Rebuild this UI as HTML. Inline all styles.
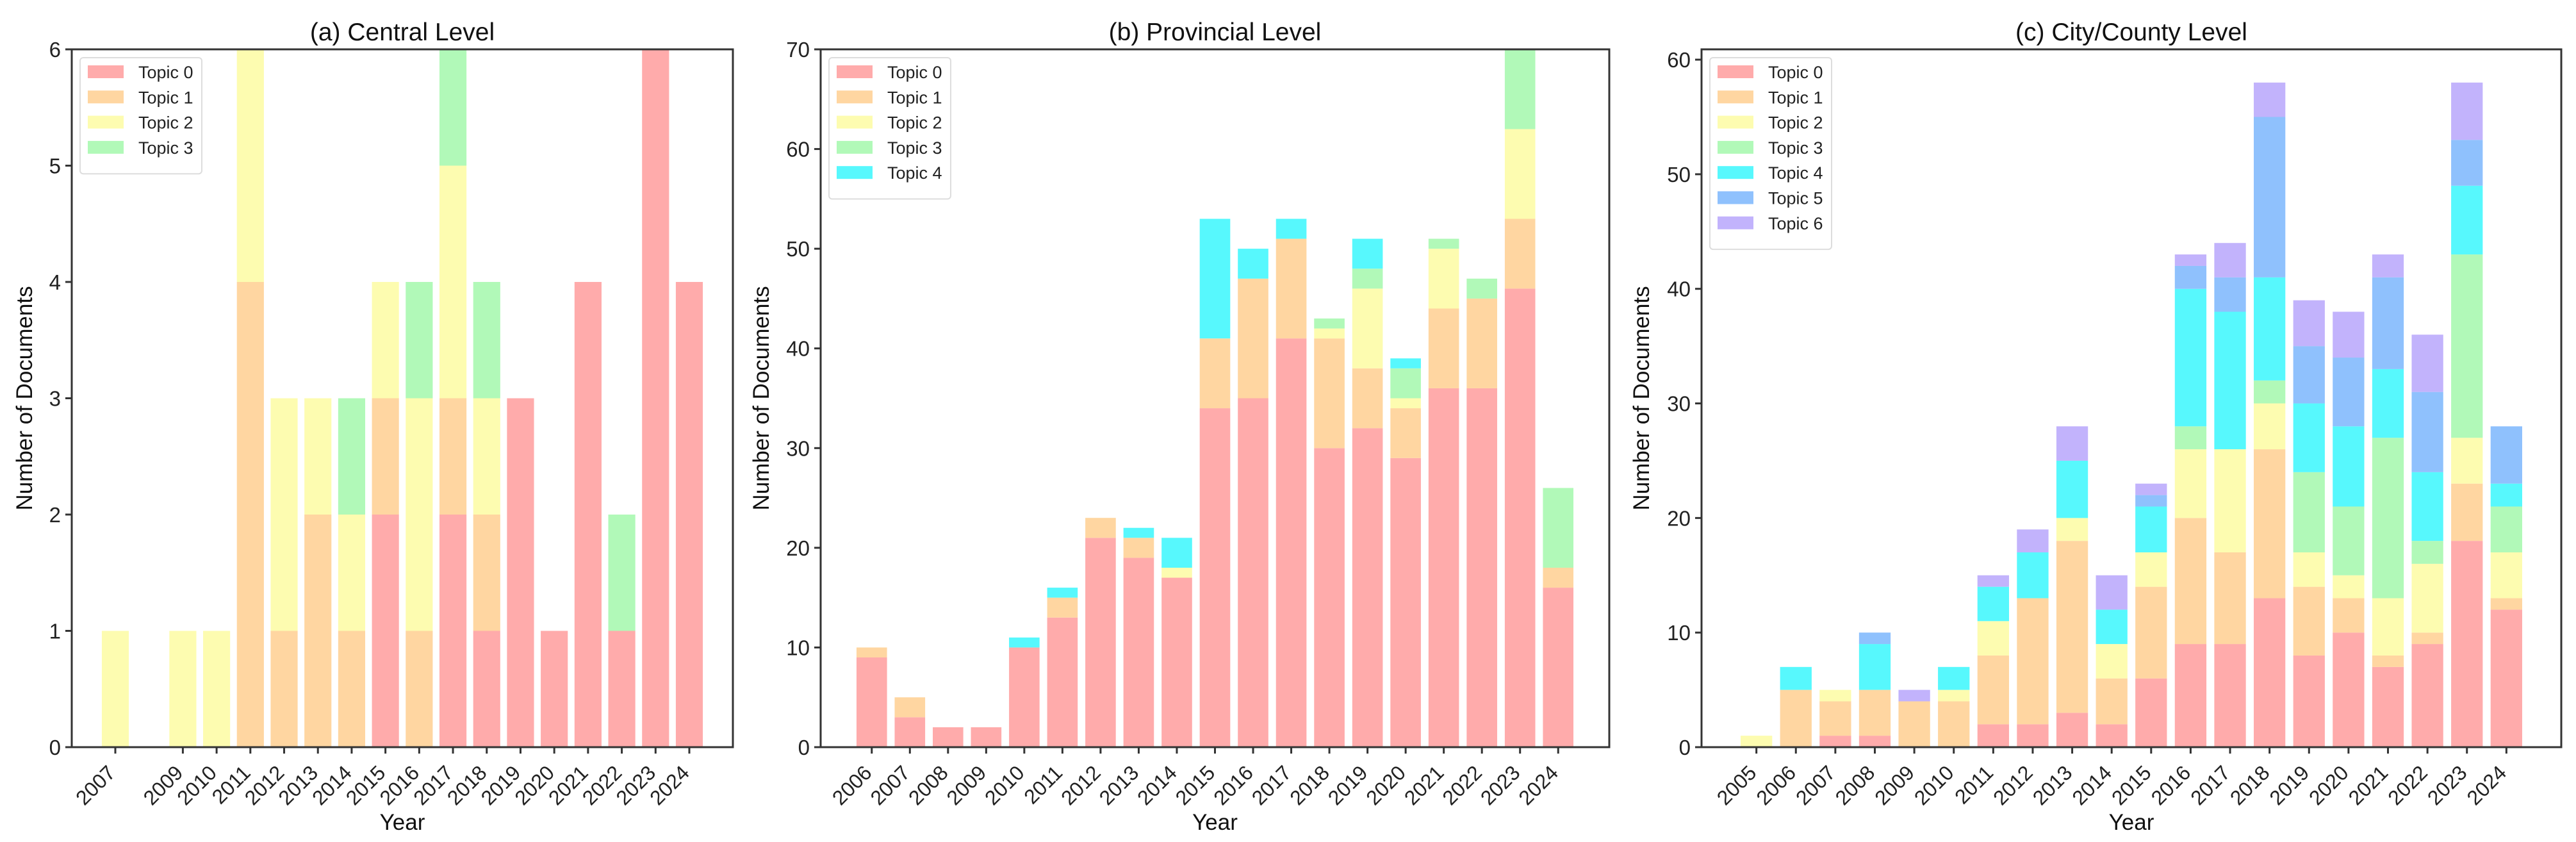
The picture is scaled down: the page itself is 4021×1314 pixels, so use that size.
<!DOCTYPE html>
<html><head><meta charset="utf-8">
<style>
html,body{margin:0;padding:0;background:#fff;}
svg{display:block;font-family:"Liberation Sans","DejaVu Sans",sans-serif;}
</style></head>
<body>
<svg id="fig" width="4021" height="1314" viewBox="0 0 4021 1314" xmlns="http://www.w3.org/2000/svg"></svg>
<script>
const topicColors = ["#ffabab","#ffd6a1","#fdfcb0","#b1f9b8","#57f8fd","#8fc1fd","#c2b3fc"];

const yearsA = [2007,2009,2010,2011,2012,2013,2014,2015,2016,2017,2018,2019,2020,2021,2022,2023,2024];
const a_t0 = [0,0,0,0,0,0,0,2,0,2,1,3,1,4,1,6,4];
const a_t1 = [0,0,0,4,1,2,1,1,1,1,1,0,0,0,0,0,0];
const a_t2 = [1,1,1,2,2,1,1,1,2,2,1,0,0,0,0,0,0];
const a_t3 = [0,0,0,0,0,0,1,0,1,1,1,0,0,0,1,0,0];
const ticksA = [0,1,2,3,4,5,6];

const yearsB = [2006,2007,2008,2009,2010,2011,2012,2013,2014,2015,2016,2017,2018,2019,2020,2021,2022,2023,2024];
const b_t0 = [9,3,2,2,10,13,21,19,17,34,35,41,30,32,29,36,36,46,16];
const b_t1 = [1,2,0,0,0,2,2,2,0,7,12,10,11,6,5,8,9,7,2];
const b_t2 = [0,0,0,0,0,0,0,0,1,0,0,0,1,8,1,6,0,9,0];
const b_t3 = [0,0,0,0,0,0,0,0,0,0,0,0,1,2,3,1,2,10,8];
const b_t4 = [0,0,0,0,1,1,0,1,3,12,3,2,0,3,1,0,0,0,0];
const ticksB = [0,10,20,30,40,50,60,70];

const yearsC = [2005,2006,2007,2008,2009,2010,2011,2012,2013,2014,2015,2016,2017,2018,2019,2020,2021,2022,2023,2024];
const c_t0 = [0,0,1,1,0,0,2,2,3,2,6,9,9,13,8,10,7,9,18,12];
const c_t1 = [0,5,3,4,4,4,6,11,15,4,8,11,8,13,6,3,1,1,5,1];
const c_t2 = [1,0,1,0,0,1,3,0,2,3,3,6,9,4,3,2,5,6,4,4];
const c_t3 = [0,0,0,0,0,0,0,0,0,0,0,2,0,2,7,6,14,2,16,4];
const c_t4 = [0,2,0,4,0,2,3,4,5,3,4,12,12,9,6,7,6,6,6,2];
const c_t5 = [0,0,0,1,0,0,0,0,0,0,1,2,3,14,5,6,8,7,4,5];
const c_t6 = [0,0,0,0,1,0,1,2,3,3,1,1,3,3,4,4,2,5,5,0];
const ticksC = [0,10,20,30,40,50,60];

const NS = "http://www.w3.org/2000/svg";
const svg = document.getElementById("fig");
function mk(tag, attrs, parent){
  const e = document.createElementNS(NS, tag);
  for (const k in attrs) e.setAttribute(k, attrs[k]);
  (parent||svg).appendChild(e);
  return e;
}

function panel(cfg){
  const {id, title, left, right, top, bottom, years, series, ymax, ticks} = cfg;
  const g = mk("g", {});
  
  
  const xmin = years[0] - 0.4, xmaxD = years[years.length-1] + 0.4;
  const m = (xmaxD - xmin) * 0.05;
  const x0 = xmin - m, x1 = xmaxD + m;
  const xs = v => left + (v - x0) / (x1 - x0) * (right - left);
  const ys = v => bottom - v / ymax * (bottom - top);
  const clip = mk("clipPath", {id: id + "-clip"}, g);
  mk("rect", {x:left, y:top, width:right-left, height:bottom-top}, clip);
  const bars = mk("g", {"clip-path": "url(#" + id + "-clip)"}, g);
  
  
  const bw = xs(0.8) - xs(0);
  years.forEach((yr, i) => {
    let base = 0;
    series.forEach((s, k) => {
      const v = s[i];
      if (v > 0) {
        const r = mk("rect", {x: xs(yr) - bw/2, y: ys(base + v), width: bw, height: ys(base) - ys(base + v), fill: topicColors[k]}, bars);
        
        
      }
      base += v;
    });
  });
  const fr = mk("rect", {x:left, y:top, width:right-left, height:bottom-top, fill:"none", stroke:"#333", "stroke-width":3}, g);
  
  
  ticks.forEach(t => {
    const y = ys(t);
    const tl = mk("line", {x1:left-10, x2:left, y1:y, y2:y, stroke:"#333", "stroke-width":3}, g);
    
    
    const tx = mk("text", {x:left-17, y:y+12, "text-anchor":"end", "font-size":33, fill:"#222"}, g);
    tx.textContent = t;
    
    
  });
  years.forEach(yr => {
    const x = xs(yr);
    const tl = mk("line", {x1:x, x2:x, y1:bottom, y2:bottom+10, stroke:"#333", "stroke-width":3}, g);
    
    
    const tx = mk("text", {x:0, y:0, "text-anchor":"end", "font-size":32, fill:"#222",
      transform:"translate(" + (x+2) + "," + (bottom+42) + ") rotate(-45)"}, g);
    tx.textContent = yr;
    
    
  });
  const tt = mk("text", {x:(left+right)/2, y:63, "text-anchor":"middle", "font-size":39, fill:"#111"}, g);
  tt.textContent = title;
  
  
  const xl = mk("text", {x:(left+right)/2, y:1295, "text-anchor":"middle", "font-size":35, fill:"#111"}, g);
  xl.textContent = "Year";
  
  
  const ylx = cfg.ylabelX;
  const yl = mk("text", {x:0, y:0, "text-anchor":"middle", "font-size":35, fill:"#111",
    transform:"translate(" + ylx + "," + ((top+bottom)/2) + ") rotate(-90)"}, g);
  yl.textContent = "Number of Documents";
  
  
  const n = series.length;
  const lg = mk("g", {}, g);
  
  
  mk("rect", {x:left+13, y:top+13, width:190, height:24 + n*39.3, rx:5, fill:"rgba(255,255,255,0.85)", stroke:"#ddd", "stroke-width":2}, lg);
  for (let k = 0; k < n; k++) {
    const cy = top + 35 + k*39.3;
    const p = mk("rect", {x:left+25, y:cy-10, width:56, height:20, fill:topicColors[k]}, lg);
    
    
    const t = mk("text", {x:left+104, y:cy+10, "font-size":27, fill:"#222"}, lg);
    t.textContent = "Topic " + k;
    
    
  }
}

panel({id:"central", title:"(a) Central Level", left:112, right:1144, top:77, bottom:1166,
  years:yearsA, series:[a_t0,a_t1,a_t2,a_t3], ymax:6, ticks:ticksA, ylabelX:50});
panel({id:"provincial", title:"(b) Provincial Level", left:1281, right:2512, top:77, bottom:1166,
  years:yearsB, series:[b_t0,b_t1,b_t2,b_t3,b_t4], ymax:70, ticks:ticksB, ylabelX:1200});
panel({id:"city", title:"(c) City/County Level", left:2656, right:3998, top:77, bottom:1166,
  years:yearsC, series:[c_t0,c_t1,c_t2,c_t3,c_t4,c_t5,c_t6], ymax:60.9, ticks:ticksC, ylabelX:2574});
</script>
</body></html>
